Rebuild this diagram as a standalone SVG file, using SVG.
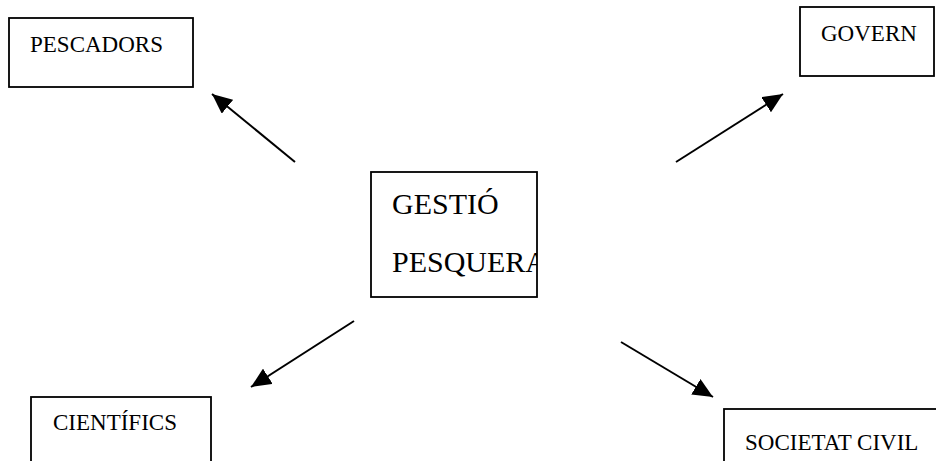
<svg xmlns="http://www.w3.org/2000/svg" width="936" height="461" viewBox="0 0 936 461">
<style>
.box{fill:#fff;stroke:#000;stroke-width:1.8}
.lbl{font-family:"Liberation Serif","Times New Roman",serif;font-size:23px;fill:#000}
.big{font-family:"Liberation Serif","Times New Roman",serif;font-size:30px;fill:#000}
.conn line{stroke:#000;stroke-width:2}
</style>
<defs>
<marker id="ah" markerUnits="userSpaceOnUse" markerWidth="22" markerHeight="18" refX="20" refY="9" orient="auto">
<path d="M0,0 L20,9 L0,18 z" fill="#000"/>
</marker>
<clipPath id="gclip"><rect x="371" y="172" width="166" height="125"/></clipPath>
</defs>
<rect width="936" height="461" fill="#fff"/>
<g id="pescadors"><rect class="box" x="9" y="18" width="184" height="69"/><text class="lbl" x="30" y="52">PESCADORS</text></g>
<g id="govern"><rect class="box" x="800" y="7" width="134" height="69"/><text class="lbl" x="821" y="41">GOVERN</text></g>
<g id="gestio"><rect class="box" x="371" y="172" width="166" height="125"/><g clip-path="url(#gclip)"><text class="big" x="392" y="214">GESTIÓ</text><text class="big" x="392" y="272">PESQUERA</text></g></g>
<g id="cientifics"><rect class="box" x="31" y="397" width="180" height="70"/><text class="lbl" x="53" y="430">CIENTÍFICS</text></g>
<g id="societat"><rect class="box" x="724" y="409" width="216" height="60"/><text class="lbl" x="745" y="450">SOCIETAT CIVIL</text></g>
<g id="connectors" class="conn">
<line x1="295" y1="162" x2="212" y2="94" marker-end="url(#ah)"/>
<line x1="676" y1="162" x2="783" y2="94" marker-end="url(#ah)"/>
<line x1="354" y1="321" x2="251" y2="387" marker-end="url(#ah)"/>
<line x1="621" y1="342" x2="713" y2="397" marker-end="url(#ah)"/>
</g>
</svg>
